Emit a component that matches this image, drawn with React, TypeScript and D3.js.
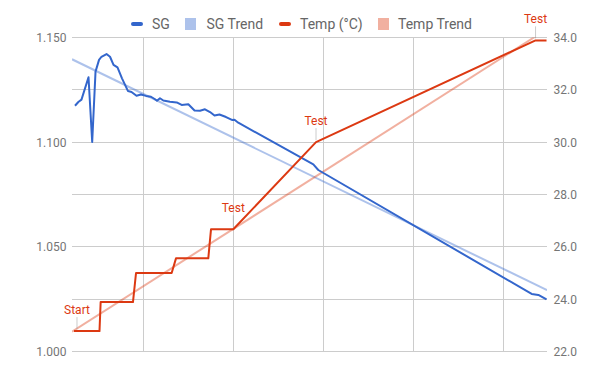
import React from "react";
import * as d3 from "d3";

// ---- data ----
const sgDays = [0.239, 0.276, 0.311, 0.389, 0.43, 0.467, 0.506, 0.533, 0.589, 0.628, 0.667, 0.711, 0.761, 0.828, 0.867, 0.922, 0.972, 1.028, 1.083, 1.128, 1.15, 1.183, 1.22, 1.294, 1.369, 1.424, 1.498, 1.567, 1.628, 1.683, 1.739, 1.789, 1.844, 1.917, 1.983, 2.011, 2.053, 2.887, 2.942, 5.313, 5.387, 5.478];
const sgValues = [1.1174, 1.1192, 1.1203, 1.131, 1.1001, 1.1337, 1.1393, 1.1408, 1.1421, 1.1408, 1.1369, 1.1357, 1.1305, 1.1244, 1.124, 1.1222, 1.1228, 1.1221, 1.1217, 1.1205, 1.1198, 1.121, 1.1199, 1.1193, 1.119, 1.1178, 1.1181, 1.1151, 1.115, 1.1157, 1.1144, 1.1127, 1.1132, 1.112, 1.1106, 1.1107, 1.1093, 1.0894, 1.0867, 1.0275, 1.027, 1.0249];

const tempDays = [0.228, 0.511, 0.524, 0.883, 0.917, 1.313, 1.361, 1.72, 1.75, 1.998, 2.917, 5.356, 5.478];
const tempValues = [22.78, 22.78, 23.89, 23.89, 25.0, 25.0, 25.56, 25.56, 26.67, 26.67, 30.0, 33.89, 33.89];

const sgTrendDays = [0.2056, 5.4833];
const sgTrendValues = [1.1396, 1.0293];
const tempTrendDays = [0.2056, 5.4833];
const tempTrendValues = [22.76, 34.32];

const annotationDays = [0.261, 1.998, 2.917, 5.356];
const annotationTemps = [22.78, 26.67, 30.0, 33.89];
const annotationTexts = ["Start", "Test", "Test", "Test"];

const xGridDays = [1, 2, 3, 4, 5];
const sgGridTicks = [1.0, 1.025, 1.05, 1.075, 1.1, 1.125, 1.15];
const sgLabelTicks = [1.0, 1.05, 1.1, 1.15];
const tempTicks = [22, 24, 26, 28, 30, 32, 34];

const legendLabels = ["SG", "SG Trend", "Temp (°C)", "Temp Trend"];

// ---- style ----
const SG_COLOR = "#3366cc";
const TEMP_COLOR = "#dc3912";
const FONT = "Roboto, Arial, sans-serif";

export default function App() {
  const W = 600, H = 371;
  const left = 72, right = 547, top = 37.5, bottom = 351.5;

  const x = d3.scaleLinear().domain([0.2056, 5.4833]).range([left, right]);
  const ySG = d3.scaleLinear().domain([1.0, 1.15]).range([bottom, top]);
  const yT = d3.scaleLinear().domain([22, 34]).range([bottom, top]);

  const sgLine = d3.line<number>().x((_, i) => x(sgDays[i])).y((v) => ySG(v));
  const tLine = d3.line<number>().x((_, i) => x(tempDays[i])).y((v) => yT(v));
  const sgTrend = d3.line<number>().x((_, i) => x(sgTrendDays[i])).y((v) => ySG(v));
  const tTrend = d3.line<number>().x((_, i) => x(tempTrendDays[i])).y((v) => yT(v));

  const legendMarks = [
    { kind: "line", color: SG_COLOR, mx: 131, tx: 152 },
    { kind: "rect", color: SG_COLOR, mx: 185, tx: 206.5 },
    { kind: "line", color: TEMP_COLOR, mx: 279, tx: 300 },
    { kind: "rect", color: TEMP_COLOR, mx: 378, tx: 398 },
  ];

  return (
    <svg width={W} height={H} style={{ position: "absolute", left: 0, top: 0, background: "#fff" }} fontFamily={FONT}>
      <defs>
        <clipPath id="plot">
          <rect x={left} y={top} width={right - left} height={bottom - top} />
        </clipPath>
      </defs>
      {/* gridlines */}
      {sgGridTicks.map((t) => (
        <line key={"h" + t} x1={left} x2={right} y1={Math.round(ySG(t) - 0.5) + 0.5} y2={Math.round(ySG(t) - 0.5) + 0.5} stroke="#cccccc" strokeWidth={1} />
      ))}
      {xGridDays.map((d) => (
        <line key={"v" + d} x1={Math.round(x(d) - 0.5) + 0.5} x2={Math.round(x(d) - 0.5) + 0.5} y1={top} y2={bottom} stroke="#cccccc" strokeWidth={1} />
      ))}
      {/* left axis labels */}
      {sgLabelTicks.map((t) => (
        <text key={"l" + t} x={66.5} y={ySG(t) + 4.5} textAnchor="end" fontSize={12} fill="#757575">
          {d3.format(".3f")(t)}
        </text>
      ))}
      {tempTicks.map((t) => (
        <text key={"r" + t} x={553.5} y={yT(t) + 4.5} textAnchor="start" fontSize={12} fill="#757575">
          {d3.format(".1f")(t)}
        </text>
      ))}
      <g clipPath="url(#plot)">
        <path d={sgTrend(sgTrendValues) || ""} fill="none" stroke={SG_COLOR} strokeOpacity={0.4} strokeWidth={2} />
        <path d={tTrend(tempTrendValues) || ""} fill="none" stroke={TEMP_COLOR} strokeOpacity={0.4} strokeWidth={2} />
      </g>
      <path d={sgLine(sgValues) || ""} fill="none" stroke={SG_COLOR} strokeWidth={2} strokeLinejoin="round" />
      <path d={tLine(tempValues) || ""} fill="none" stroke={TEMP_COLOR} strokeWidth={2} strokeLinejoin="round" />
      {/* annotations */}
      {annotationDays.map((d, i) => {
        const px = x(d);
        const py = yT(annotationTemps[i]);
        return (
          <g key={"a" + i}>
            <line x1={px} x2={px} y1={py - 2} y2={py - 14} stroke="#999999" strokeOpacity={0.5} strokeWidth={1} />
            <text x={px} y={py - 17} textAnchor="middle" fontSize={12} fill={TEMP_COLOR}>
              {annotationTexts[i]}
            </text>
          </g>
        );
      })}
      {/* legend */}
      {legendLabels.map((lab, i) => {
        const m = legendMarks[i];
        return (
          <g key={"lg" + i}>
            {m.kind === "line" ? (
              <line x1={m.mx + 2} x2={m.mx + 10} y1={24} y2={24} stroke={m.color} strokeWidth={4} strokeLinecap="round" />
            ) : (
              <rect x={m.mx} y={18} width={11} height={12} fill={m.color} fillOpacity={0.4} />
            )}
            <text x={m.tx} y={29} fontSize={14} fill="#666666">
              {lab}
            </text>
          </g>
        );
      })}
    </svg>
  );
}
